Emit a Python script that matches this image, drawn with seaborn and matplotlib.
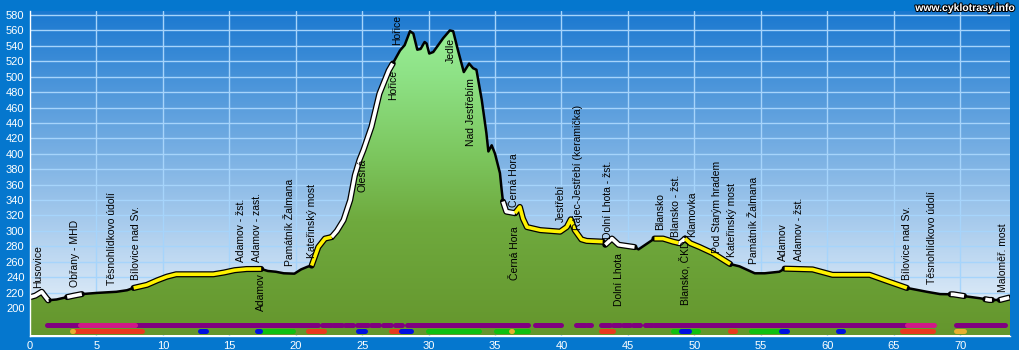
import numpy as np
import matplotlib
matplotlib.use('Agg')
import matplotlib.pyplot as plt
import seaborn as sns
from matplotlib.colors import LinearSegmentedColormap
from matplotlib.patches import Polygon
import matplotlib.patheffects as pe

sns.set_style('white')
plt.rcParams['font.family'] = ['Liberation Sans', 'DejaVu Sans']

# ---------------- data ----------------
km = [0.0, 0.4, 0.88, 1.1, 1.37, 2.0, 2.76, 3.3, 3.9, 5.0, 6.5, 7.3, 7.8, 8.8, 9.6,
      10.3, 11.0, 12.5, 13.8, 14.6, 15.4, 16.3, 17.4, 17.9, 18.5, 19.1, 19.9, 20.4,
      20.9, 21.2, 21.7, 22.2, 22.7, 23.1, 23.6, 24.1, 24.45, 24.8, 25.1, 25.7, 26.3,
      27.0, 27.3, 27.85, 28.2, 28.6, 28.85, 29.15, 29.4, 29.7, 29.85, 30.05, 30.35,
      31.1, 31.6, 31.85, 32.2, 32.65, 33.05, 33.35, 33.6, 34.0, 34.35, 34.5, 34.75,
      35.0, 35.37, 35.5, 35.6, 35.85, 36.5, 36.87, 37.1, 37.4, 38.4, 39.9, 40.4, 40.7,
      41.0, 41.5, 41.9, 43.1, 43.3, 43.8, 44.3, 45.5, 45.8, 47.0, 47.65, 48.4, 48.9,
      49.3, 49.7, 50.4, 51.4, 52.7, 53.4, 54.55, 55.3, 56.4, 56.8, 58.9, 60.4, 63.2,
      64.5, 66.0, 67.5, 68.5, 69.5, 70.6, 71.5, 72.2, 73.0, 73.7]
elev = [214, 216, 221, 216, 210, 211, 214, 216, 218, 219.5, 221, 223, 226, 230, 236,
        240.6, 243.7, 243.7, 243.7, 246, 249, 250.5, 250.6, 248, 247, 245, 244.5, 250,
        253.6, 255, 279, 290, 292, 300, 314, 340, 372, 392, 405, 435, 478,
        508, 517, 534, 541, 559, 556, 535, 536, 545, 543, 530, 532,
        550, 560, 559, 535, 506, 517, 511, 509, 470, 427, 403, 411,
        400, 375, 353, 338, 325, 323, 331, 316, 305, 301, 299, 305, 315,
        301, 289, 287, 286, 282, 290, 282, 279, 276, 290, 290, 286, 284,
        290, 284, 279, 271, 257, 254, 245, 245, 247, 251, 250, 243, 243,
        235, 226, 221, 218, 217.7, 214.7, 212.6, 210.4, 210.4, 213.5]

white_segments = [(0.0, 1.4), (2.8, 3.9), (22.7, 27.3), (35.6, 36.5), (43.3, 45.5),
                  (48.8, 49.3), (69.3, 70.3), (71.9, 72.4), (73.0, 73.7)]
yellow_segments = [(7.8, 17.4), (21.2, 22.7), (36.5, 43.1), (47.0, 48.8),
                   (49.3, 52.7), (56.8, 66.0)]

labels_above = [
    ("Husovice", 0.6, 226), ("Obřany - MHD", 3.4, 227.6),
    ("Těsnohlídkovo údolí", 6.15, 230), ("Bílovice nad Sv.", 8.0, 236),
    ("Adamov - žst.", 15.9, 259), ("Adamov - zast.", 17.1, 259),
    ("Památník Žalmana", 19.55, 255), ("Kateřinský most", 21.2, 265),
    ("Hořice", 27.65, 541), ("Černá Hora", 36.4, 331), ("Jestřebí", 39.95, 312),
    ("Rájec-Jestřebí (keramička)", 41.25, 301), ("Dolní Lhota - žst.", 43.5, 290),
    ("Blansko", 47.4, 301), ("Blansko - žst.", 48.6, 291.7), ("Klamovka", 49.85, 292.5),
    ("Pod Starým hradem", 51.7, 271), ("Kateřinský most", 52.8, 266.5),
    ("Památník Žalmana", 54.5, 256.7), ("Adamov", 56.7, 261), ("Adamov - žst.", 57.9, 261),
    ("Bílovice nad Sv.", 66.0, 236), ("Těsnohlídkovo údolí", 67.9, 230.7),
    ("Maloměř. most", 73.25, 221),
]
labels_below = [
    ("Adamov", 17.4, 245), ("Olešná", 25.0, 393), ("Hořice", 27.35, 509),
    ("Jedle", 31.7, 550), ("Nad Jestřebím", 33.2, 498), ("Černá Hora", 36.5, 306),
    ("Dolní Lhota", 44.3, 271), ("Blansko, ČKD", 49.3, 288),
]

row1_purple = [(1.25, 3.76), (7.9, 21.65), (21.95, 22.65), (22.8, 23.45), (23.7, 24.3),
               (24.6, 25.45), (25.7, 26.3), (26.6, 27.2), (27.45, 28.0), (28.35, 37.5),
               (38.0, 40.0), (41.1, 41.75), (41.95, 42.25), (42.95, 43.65), (43.9, 44.4),
               (44.65, 45.15), (45.4, 45.9), (46.3, 46.8), (47.0, 66.0), (69.7, 73.4)]
row1_magenta = [(3.76, 7.9), (66.0, 68.05)]
row2_red = [(3.26, 8.4), (20.95, 22.1), (27.2, 27.95), (43.0, 43.9), (52.65, 53.05),
            (65.6, 68.0)]
row2_blue = [(12.8, 13.25), (17.05, 17.3), (24.7, 25.2), (27.95, 28.7), (49.0, 49.6),
             (56.55, 57.0), (60.8, 61.2)]
row2_green = [(17.3, 19.8), (29.95, 33.8), (35.1, 36.1), (36.4, 37.5), (48.4, 49.0),
              (49.6, 50.3), (54.3, 56.45)]
row2_orange = [(3.15, 3.25), (36.2, 36.3), (69.7, 70.3)]

yticks = list(range(200, 600, 20))
xticks = list(range(0, 75, 5))

# ---------------- layout ----------------
XMAX = 73.76
YMIN, YMAX = 164.3, 585.2
W, H = 1020, 350

fig = plt.figure(figsize=(W / 100, H / 100), dpi=100, facecolor='#0577CE')
ax = fig.add_axes([30 / W, (H - 335.5) / H, 980 / W, (335.5 - 11) / H])
ax.set_xlim(0, XMAX)
ax.set_ylim(YMIN, YMAX)

# sky gradient
sky = LinearSegmentedColormap.from_list('sky', ['#F2F7FC', '#1A78D0'])
grad = np.linspace(0, 1, 256).reshape(-1, 1)
ax.imshow(grad, cmap=sky, aspect='auto', extent=[0, XMAX, YMIN, YMAX],
          origin='lower', zorder=0, interpolation='bicubic')

# grid
for y in yticks:
    ax.axhline(y, color='#A6D4FB', lw=1, zorder=1)
for x in xticks[1:]:
    ax.axvline(x, color='#A6D4FB', lw=1, zorder=1)

# terrain fill with gradient
poly_x = [0] + km + [XMAX, XMAX, 0]
poly_y = [elev[0]] + elev + [elev[-1], YMIN, YMIN]
poly = Polygon(np.column_stack([poly_x, poly_y]), closed=True, facecolor='none',
               edgecolor='none', transform=ax.transData)
ax.add_patch(poly)
green = LinearSegmentedColormap.from_list(
    'green', [(0, '#65962D'), (0.35, '#6FAA3E'), (0.55, '#7CC65E'),
              (0.8, '#8EE286'), (1, '#9CF29C')])
im = ax.imshow(grad, cmap=green, aspect='auto', extent=[0, XMAX, YMIN, YMAX],
               origin='lower', zorder=2, interpolation='bicubic')
im.set_clip_path(poly)

# profile line
sns.lineplot(x=km, y=elev, color='black', lw=1.8, ax=ax, zorder=5, sort=False)

def seg_xy(a, b):
    xs = [a] + [k for k in km if a < k < b] + [b]
    ys = np.interp(xs, km, elev)
    return xs, ys

all_segs = [(s, 'white') for s in white_segments] + [(s, '#FFF200') for s in yellow_segments]
for (a, b), c in all_segs:
    xs, ys = seg_xy(a, b)
    ax.plot(xs, ys, color='black', lw=4.4, zorder=6, solid_capstyle='round',
            solid_joinstyle='round')
for (a, b), c in all_segs:
    xs, ys = seg_xy(a, b)
    ax.plot(xs, ys, color=c, lw=2.6, zorder=7, solid_capstyle='butt',
            solid_joinstyle='round')

# labels
for name, x, y in labels_above:
    ax.text(x, y, name, rotation=90, ha='center', va='bottom', fontsize=7.5,
            color='black', zorder=8)
for name, x, y in labels_below:
    ax.text(x, y, name, rotation=90, ha='center', va='top', fontsize=7.5,
            color='black', zorder=8)

# bottom attribute bars
def bars(segs, y, color):
    for a, b in segs:
        ax.plot([a, b], [y, y], color=color, lw=3.6, solid_capstyle='round', zorder=4)

bars(row1_purple, 178, '#800080')
bars(row1_magenta, 178, '#D01888')
bars(row2_red, 170, '#E83A1E')
bars(row2_green, 170, '#10C010')
bars(row2_blue, 170, '#0010E0')
bars(row2_orange, 170, '#E8B030')

# axes styling
ax.set_yticks(yticks)
ax.set_xticks(xticks)
ax.tick_params(axis='both', colors='white', labelcolor='white', labelsize=8,
               length=3, width=1, direction='out', pad=1)
for side in ['top', 'right']:
    ax.spines[side].set_visible(False)
for side in ['left', 'bottom']:
    ax.spines[side].set_color('white')
    ax.spines[side].set_linewidth(1)
    ax.spines[side].set_zorder(9)
ax.set_xlabel('')
ax.set_ylabel('')

fig.text(1015 / W, 1 - 8 / H, 'www.cyklotrasy.info', ha='right', va='center',
         fontsize=7.5, fontweight='bold', color='white',
         path_effects=[pe.withStroke(linewidth=1.5, foreground='black')])

fig.savefig('out.png', dpi=100, facecolor=fig.get_facecolor())
